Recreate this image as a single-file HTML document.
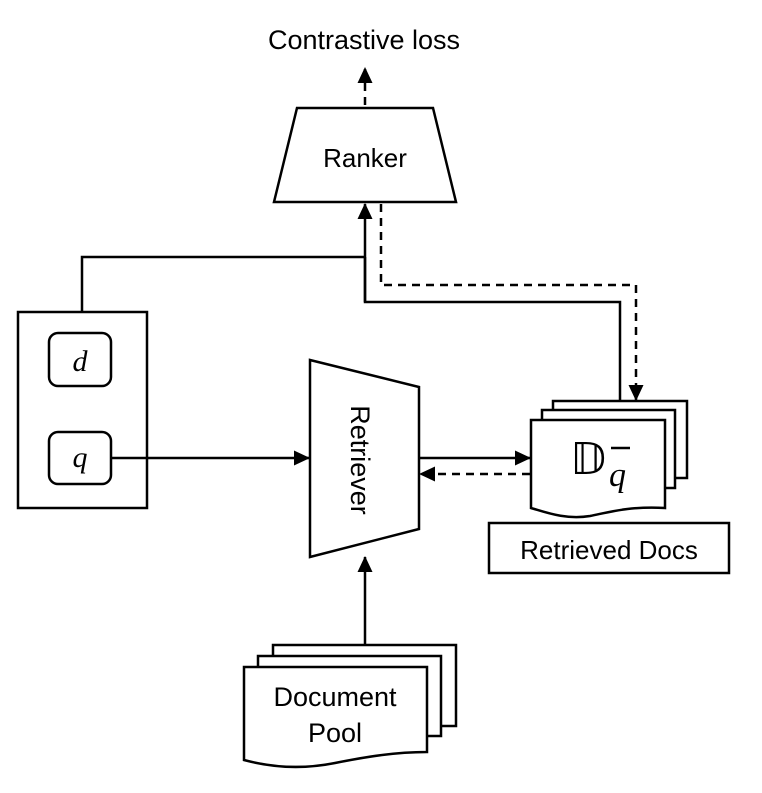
<!DOCTYPE html>
<html><head><meta charset="utf-8"><style>
body{margin:0;background:#fff}
svg{display:block}
text{font-family:"Liberation Sans","DejaVu Sans",sans-serif;fill:#000}
</style></head><body>
<svg width="762" height="793" viewBox="0 0 762 793" xmlns="http://www.w3.org/2000/svg">
<defs>
<marker id="ah" markerWidth="16" markerHeight="16" refX="15" refY="7.5" orient="auto" markerUnits="userSpaceOnUse" viewBox="0 0 16 16">
<path d="M0,0 L16,7.5 L0,15 z" fill="#000"/>
</marker>
</defs>
<g fill="none" stroke="#000" stroke-width="2.5">
<polygon points="297,108 433,108 456,202 274,202" fill="#fff"/>
<rect x="18" y="312" width="129" height="196" fill="#fff"/>
<rect x="49" y="333" width="62" height="53" rx="9" fill="#fff"/>
<rect x="49" y="432" width="62" height="52" rx="9" fill="#fff"/>
<polygon points="310,360 419,387 419,529 310,557" fill="#fff"/>
<path d="M553,401 H687 V478 H553 Z" fill="#fff"/>
<path d="M542,410 H675 V488 H542 Z" fill="#fff"/>
<path d="M531,420 H665 V508 C630,506 610,512 590,516 C565,520 545,512 531,508 Z" fill="#fff"/>
<rect x="489" y="523" width="240" height="50" fill="#fff"/>
<path d="M273,645 H456 V726 H273 Z" fill="#fff"/>
<path d="M258,656 H441 V736 H258 Z" fill="#fff"/>
<path d="M244,667 H427 V752 C395,752 365,757 335,763 C300,770 270,767 244,760 Z" fill="#fff"/>
<line x1="365" y1="105" x2="365" y2="68" stroke-dasharray="8,6" marker-end="url(#ah)"/>
<polyline points="82,312 82,257 365,257"/>
<line x1="365" y1="302" x2="365" y2="204" marker-end="url(#ah)"/>
<polyline points="365,257 365,302 620,302 620,401"/>
<polyline points="381,204 381,285 636,285 636,400" stroke-dasharray="8,6" marker-end="url(#ah)"/>
<line x1="111" y1="458" x2="309" y2="458" marker-end="url(#ah)"/>
<line x1="419" y1="458" x2="530" y2="458" marker-end="url(#ah)"/>
<line x1="530" y1="474" x2="420" y2="474" stroke-dasharray="8,6" marker-end="url(#ah)"/>
<line x1="365" y1="645" x2="365" y2="557" marker-end="url(#ah)"/>
</g>
<text x="364" y="49" font-size="27" text-anchor="middle">Contrastive loss</text>
<text x="365" y="167" font-size="26" text-anchor="middle">Ranker</text>
<text x="80" y="371" font-size="30" font-style="italic" text-anchor="middle" style="font-family:'Liberation Serif',serif">d</text>
<text x="80" y="467" font-size="30" font-style="italic" text-anchor="middle" style="font-family:'Liberation Serif',serif">q</text>
<text x="0" y="0" font-size="27" text-anchor="middle" transform="translate(351,460) rotate(90)">Retriever</text>
<text x="570" y="474" font-size="44" style="font-family:'DejaVu Sans',sans-serif">𝔻</text>
<text x="609" y="486" font-size="34" font-style="italic" style="font-family:'Liberation Serif',serif">q</text>
<line x1="611" y1="448" x2="630" y2="448" stroke="#000" stroke-width="2.5"/>
<text x="609" y="559" font-size="26" text-anchor="middle">Retrieved Docs</text>
<text x="335" y="706" font-size="27" text-anchor="middle">Document</text>
<text x="335" y="742" font-size="27" text-anchor="middle">Pool</text>
</svg>
</body></html>
